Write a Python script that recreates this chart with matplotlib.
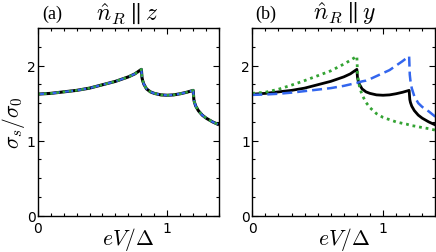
import matplotlib.pyplot as plt
from matplotlib.ticker import MultipleLocator

# ---------------------------------------------------------
# data
# ---------------------------------------------------------
ev = [0.0, 0.1, 0.2, 0.3, 0.4, 0.5, 0.6, 0.7, 0.75, 0.8, 0.805, 0.81, 0.82, 0.84,
      0.87, 0.9, 0.95, 1.0, 1.05, 1.1, 1.15, 1.18, 1.2, 1.205, 1.21, 1.22, 1.24,
      1.27, 1.3, 1.35, 1.4]

# black solid (same curve in both panels; in (a) all three coincide)
sigma_black = [1.62, 1.63, 1.65, 1.67, 1.70, 1.745, 1.79, 1.85, 1.89, 1.95, 1.84,
               1.80, 1.75, 1.69, 1.65, 1.63, 1.61, 1.605, 1.61, 1.625, 1.645, 1.66,
               1.67, 1.55, 1.51, 1.46, 1.40, 1.34, 1.30, 1.25, 1.21]

# panel (b): green dotted
sigma_green = [1.63, 1.645, 1.685, 1.74, 1.80, 1.865, 1.93, 2.02, 2.07, 2.125, 1.90,
               1.82, 1.72, 1.61, 1.51, 1.44, 1.36, 1.31, 1.28, 1.25, 1.23, 1.22,
               1.21, 1.21, 1.205, 1.20, 1.195, 1.185, 1.175, 1.16, 1.14]

# panel (b): blue dashed
sigma_blue = [1.61, 1.615, 1.625, 1.64, 1.66, 1.68, 1.70, 1.73, 1.75, 1.77, 1.772,
              1.775, 1.78, 1.79, 1.80, 1.82, 1.86, 1.90, 1.94, 2.00, 2.06, 2.10,
              2.125, 1.88, 1.80, 1.70, 1.59, 1.50, 1.45, 1.39, 1.32]

titles = [r'$\hat{n}_R \parallel z$', r'$\hat{n}_R \parallel y$']
tags = ['(a)', '(b)']

# ---------------------------------------------------------
plt.rcParams['mathtext.fontset'] = 'cm'
plt.rcParams['font.family'] = 'DejaVu Sans'

fig = plt.figure(figsize=(4.36, 2.53), dpi=100)
ax_a = fig.add_axes([0.0865, 0.1435, 0.416, 0.7415])
ax_b = fig.add_axes([0.5787, 0.1435, 0.4196, 0.7415])

green = '#33a333'
blue = '#3366ee'

for ax in (ax_a, ax_b):
    ax.set_xlim(0, 1.4)
    ax.set_ylim(0, 2.5)
    ax.xaxis.set_major_locator(MultipleLocator(1))
    ax.xaxis.set_minor_locator(MultipleLocator(0.1))
    ax.yaxis.set_major_locator(MultipleLocator(1))
    ax.yaxis.set_minor_locator(MultipleLocator(0.25))
    ax.tick_params(which='both', direction='in', top=True, right=True,
                   labelsize=10, width=0.8)
    ax.tick_params(axis='x', pad=3.5)
    ax.tick_params(axis='y', pad=1.5)
    ax.tick_params(which='major', length=4)
    ax.tick_params(which='minor', length=2)
    for s in ax.spines.values():
        s.set_linewidth(1.0)
    ax.set_xlabel(r'$eV/\Delta$', fontsize=15.5, labelpad=-7)

# panel (a): all three curves coincide
ax_a.plot(ev, sigma_black, color='black', lw=2.2, solid_capstyle='butt')
ax_a.plot(ev, sigma_black, color=blue, lw=1.6, ls=(0, (4, 2)))
ax_a.plot(ev, sigma_black, color=green, lw=1.8, ls=(0, (1, 1.5)))

# panel (b)
ax_b.plot(ev, sigma_black, color='black', lw=2.0)
ax_b.plot(ev, sigma_green, color=green, lw=2.0, ls=(0, (1, 1.4)))
ax_b.plot(ev, sigma_blue, color=blue, lw=1.8, ls=(0, (4, 2)))

ax_a.set_ylabel(r'$\sigma_s/\sigma_0$', fontsize=15.5, labelpad=0)

fig.text(52 / 436, 1 - 14 / 253, tags[0], fontsize=13, family='Liberation Serif',
         ha='center', va='center')
fig.text(127 / 436, 1 - 14 / 253, titles[0], fontsize=17, ha='center', va='center')
fig.text(266 / 436, 1 - 14 / 253, tags[1], fontsize=13, family='Liberation Serif',
         ha='center', va='center')
fig.text(345 / 436, 1 - 14 / 253, titles[1], fontsize=17, ha='center', va='center')

fig.savefig('out.png', dpi=100)
